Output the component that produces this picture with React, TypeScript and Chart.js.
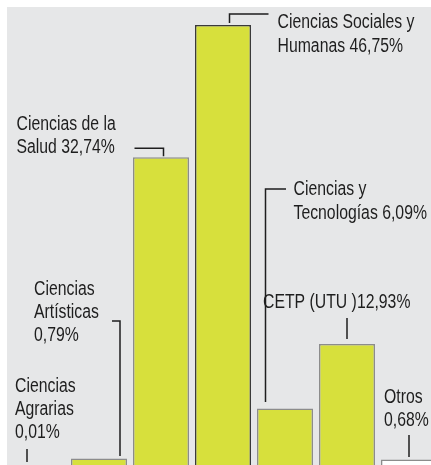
import React, { useEffect, useRef } from "react";
import { Chart, registerables } from "chart.js";

Chart.register(...registerables);

const categories = [
  "Ciencias Agrarias",
  "Ciencias Artísticas",
  "Ciencias de la Salud",
  "Ciencias Sociales y Humanas",
  "Ciencias y Tecnologías",
  "CETP (UTU)",
  "Otros",
];
const values = [0.01, 0.79, 32.74, 46.75, 6.09, 12.93, 0.68];
// label lines; {v} is replaced by the formatted value
const labelLines = [
  ["Ciencias", "Agrarias", "{v}%"],
  ["Ciencias", "Artísticas", "{v}%"],
  ["Ciencias de la", "Salud {v}%"],
  ["Ciencias Sociales y", "Humanas {v}%"],
  ["Ciencias y", "Tecnologías {v}%"],
  ["CETP (UTU ){v}%"],
  ["Otros", "{v}%"],
];

const FONT = '19.5px "Liberation Sans", Arial, sans-serif';
const X_SCALE = 0.81;

// layout of annotations relative to bar centre (cx) and bar top (ty)
type Ann = { tx: number; ty: number[]; path: [number, number][] };
const annLayout: Ann[] = [
  { tx: -22, ty: [-74, -51, -28], path: [[-10, -17], [-10, -4]] },
  { tx: -65, ty: [-163.5, -140.5, -117.5], path: [[13, -137.5], [21, -137.5], [21, -2.5]] },
  { tx: -144.5, ty: [-27.5, -4], path: [[-26.5, -9], [2.5, -9], [2.5, -1]] },
  { tx: 54.5, ty: [3.5, 27], path: [[45.5, -11], [6.5, -11], [6.5, -2]] },
  { tx: 8.5, ty: [-214, -190], path: [[1, -219.6], [-19.5, -219.6], [-19.5, -6.6]] },
  { tx: -84, ty: [-36], path: [[0, -26], [0, -5]] },
  { tx: -25, ty: [-56.6, -33.6], path: [[0, -24.6], [0, -2.6]] },
];

const fmt = (v: number) => v.toFixed(2).replace(".", ",");

const annotationPlugin = {
  id: "annotations",
  afterDatasetsDraw(chart: any) {
    const ctx = chart.ctx as CanvasRenderingContext2D;
    const meta = chart.getDatasetMeta(0);
    ctx.save();
    ctx.font = FONT;
    ctx.fillStyle = "#1e1e1e";
    ctx.strokeStyle = "#1e1e1e";
    ctx.lineWidth = 1.5;
    ctx.textBaseline = "alphabetic";
    ctx.textAlign = "left";
    meta.data.forEach((el: any, i: number) => {
      const cx = el.x;
      const ty = el.y;
      const a = annLayout[i];
      labelLines[i].forEach((line, j) => {
        ctx.save();
        ctx.translate(cx + a.tx, ty + a.ty[j]);
        ctx.scale(X_SCALE, 1);
        ctx.fillText(line.replace("{v}", fmt(values[i])), 0, 0);
        ctx.restore();
      });
      ctx.beginPath();
      a.path.forEach(([dx, dy], k) => {
        const px = cx + dx;
        const py = ty + dy;
        if (k === 0) ctx.moveTo(px, py);
        else ctx.lineTo(px, py);
      });
      ctx.stroke();
    });
    ctx.restore();
  },
};

export default function App() {
  const ref = useRef<HTMLCanvasElement>(null);
  useEffect(() => {
    let chart: Chart | null = null;
    let cancelled = false;
    const make = () => {
      if (cancelled || !ref.current) return;
      chart = new Chart(ref.current, {
        type: "bar",
        data: {
          labels: categories,
          datasets: [
            {
              data: values,
              backgroundColor: values.map((_, i) => (i === 6 ? "#ffffff" : "#d7e03c")),
              borderColor: values.map((_, i) => (i === 3 ? "#3a3a3a" : "#8c8c8c")),
              borderWidth: 1.5,
              barPercentage: 0.903,
              categoryPercentage: 1,
            },
          ],
        },
        options: {
          responsive: false,
          animation: false,
          layout: { padding: { left: 6, right: 1, top: 0, bottom: 4 } },
          plugins: { legend: { display: false }, tooltip: { enabled: false } },
          scales: {
            x: { display: false },
            y: { display: false, min: 0, max: 49.4 },
          },
        },
        plugins: [annotationPlugin],
      });
    };
    const fonts: any = (document as any).fonts;
    if (fonts && fonts.load) {
      fonts.load(FONT).then(make, make);
    } else make();
    return () => {
      cancelled = true;
      if (chart) chart.destroy();
    };
  }, []);
  return (
    <div
      style={{
        position: "fixed",
        left: 0,
        top: 0,
        width: 431,
        height: 465,
        overflow: "hidden",
        background: "#ffffff",
      }}
    >
      <div
        style={{
          position: "absolute",
          left: 7,
          top: 7,
          width: 424,
          height: 458,
          background: "#e6e7e8",
        }}
      />
      <canvas
        ref={ref}
        width={441}
        height={470}
        style={{ position: "absolute", left: 0, top: 0, width: 441, height: 470 }}
      />
    </div>
  );
}
